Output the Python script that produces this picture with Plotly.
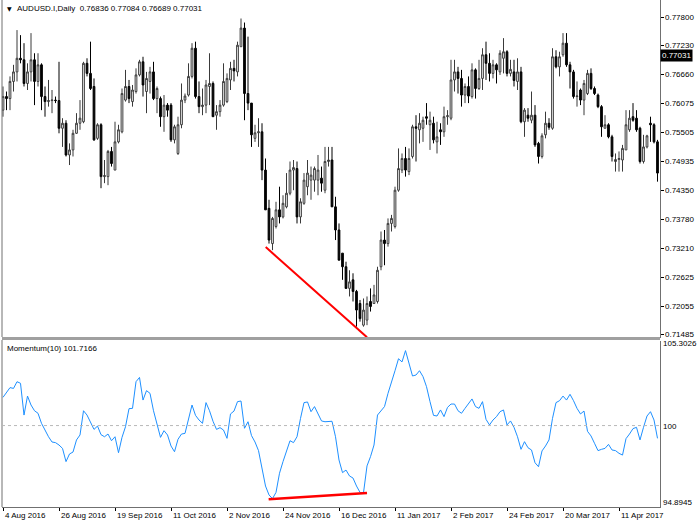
import plotly.graph_objects as go

# ---------------- data ----------------
date_tick_labels = ["4 Aug 2016", "26 Aug 2016", "19 Sep 2016", "11 Oct 2016", "2 Nov 2016",
                    "24 Nov 2016", "16 Dec 2016", "11 Jan 2017", "2 Feb 2017", "24 Feb 2017",
                    "20 Mar 2017", "11 Apr 2017"]
date_tick_bars = [0, 16, 32, 48, 64, 80, 96, 112, 128, 144, 160, 176]

price_ticks = [0.77800, 0.77230, 0.76660, 0.76075, 0.75505, 0.74935, 0.74350,
               0.73780, 0.73210, 0.72625, 0.72055, 0.71485]
momentum_labels = ["105.3026", "100", "94.8945"]

open_ = [.7595, .7622, .7618, .7652, .7671, .7698, .7695, .7648, .7671, .7695,
         .7652, .7685, .7622, .7612, .7614, .7615, .7614, .7559, .7569, .7506,
         .7516, .7549, .7569, .7572, .7688, .7668, .7642, .7539, .7566, .7463,
         .7463, .7513, .7476, .7532, .7552, .7615, .7642, .7612, .7632, .7665,
         .7691, .7632, .7652, .7671, .7618, .7618, .7582, .7605, .7605, .7536,
         .7509, .7566, .7615, .7625, .7662, .7718, .7622, .7602, .7605, .7642,
         .7648, .7585, .7592, .7605, .7612, .7655, .7678, .7671, .7721, .7758,
         .7628, .7609, .7539, .7550, .7552, .7476, .7400, .7330, .7364, .7397,
         .7383, .7403, .7430, .7476, .7479, .7383, .7410, .7443, .7456, .7456,
         .7456, .7460, .7436, .7493, .7496, .7403, .7357, .7311, .7284, .7241,
         .7258, .7235, .7211, .7168, .7178, .7215, .7211, .7215, .7284, .7337,
         .7330, .7370, .7364, .7436, .7476, .7499, .7473, .7503, .7562, .7556,
         .7559, .7582, .7566, .7569, .7532, .7556, .7552, .7582, .7579, .7655,
         .7671, .7658, .7625, .7642, .7622, .7675, .7638, .7658, .7705, .7688,
         .7668, .7685, .7671, .7698, .7711, .7668, .7671, .7652, .7671, .7572,
         .7585, .7575, .7585, .7529, .7503, .7546, .7569, .7559, .7701, .7681,
         .7705, .7728, .7685, .7671, .7622, .7635, .7615, .7628, .7668, .7638,
         .7625, .7602, .7559, .7566, .7542, .7493, .7497, .7496, .7516, .7556,
         .7582, .7579, .7559, .7493, .7522, .7569, .7566, .7532]

high = [.7642, .7632, .7662, .7685, .7754, .7744, .7728, .7688, .7748, .7708,
        .7708, .7688, .7642, .7655, .7635, .7622, .7691, .7579, .7575, .7529,
        .7556, .7589, .7615, .7691, .7698, .7731, .7658, .7569, .7569, .7496,
        .7516, .7522, .7572, .7566, .7638, .7675, .7655, .7645, .7678, .7695,
        .7701, .7671, .7681, .7691, .7642, .7622, .7625, .7609, .7609, .7566,
        .7582, .7648, .7628, .7688, .7728, .7731, .7652, .7638, .7655, .7708,
        .7652, .7605, .7615, .7688, .7668, .7691, .7695, .7731, .7777, .7769,
        .7741, .7609, .7566, .7579, .7569, .7499, .7417, .7383, .7413, .7443,
        .7426, .7470, .7493, .7496, .7493, .7420, .7470, .7496, .7483, .7483,
        .7506, .7483, .7522, .7522, .7522, .7423, .7370, .7311, .7294, .7277,
        .7271, .7238, .7218, .7221, .7225, .7241, .7248, .7284, .7354, .7357,
        .7380, .7387, .7443, .7519, .7509, .7522, .7519, .7566, .7585, .7589,
        .7582, .7609, .7592, .7582, .7572, .7569, .7602, .7595, .7695, .7695,
        .7681, .7675, .7648, .7662, .7688, .7678, .7695, .7718, .7731, .7708,
        .7695, .7688, .7714, .7738, .7714, .7695, .7695, .7698, .7681, .7599,
        .7599, .7632, .7605, .7532, .7549, .7592, .7579, .7718, .7714, .7711,
        .7748, .7748, .7691, .7675, .7652, .7638, .7655, .7675, .7678, .7642,
        .7628, .7605, .7585, .7569, .7546, .7509, .7513, .7526, .7595, .7595,
        .7609, .7595, .7562, .7546, .7546, .7582, .7569, .7536]

low = [.7582, .7595, .7595, .7632, .7652, .7688, .7642, .7635, .7652, .7605,
       .7642, .7595, .7582, .7602, .7589, .7609, .7549, .7522, .7503, .7486,
       .7503, .7548, .7556, .7569, .7662, .7635, .7534, .7536, .7440, .7450,
       .7446, .7483, .7476, .7529, .7549, .7612, .7609, .7602, .7628, .7662,
       .7622, .7589, .7628, .7615, .7589, .7562, .7552, .7582, .7532, .7529,
       .7506, .7559, .7609, .7622, .7658, .7618, .7589, .7585, .7589, .7605,
       .7582, .7556, .7582, .7602, .7609, .7635, .7652, .7662, .7721, .7575,
       .7595, .7522, .7532, .7522, .7456, .7397, .7330, .7317, .7360, .7370,
       .7380, .7400, .7426, .7436, .7370, .7370, .7407, .7426, .7417, .7433,
       .7426, .7433, .7430, .7483, .7403, .7337, .7297, .7258, .7241, .7225,
       .7215, .7165, .7175, .7165, .7168, .7195, .7211, .7211, .7277, .7287,
       .7324, .7354, .7360, .7433, .7470, .7463, .7466, .7499, .7493, .7529,
       .7532, .7566, .7516, .7529, .7509, .7526, .7542, .7566, .7575, .7632,
       .7628, .7602, .7609, .7609, .7618, .7618, .7635, .7635, .7655, .7652,
       .7658, .7648, .7665, .7668, .7662, .7662, .7642, .7635, .7569, .7542,
       .7572, .7569, .7522, .7489, .7499, .7539, .7556, .7556, .7678, .7662,
       .7701, .7681, .7638, .7618, .7602, .7605, .7585, .7625, .7635, .7625,
       .7599, .7542, .7559, .7539, .7493, .7473, .7473, .7473, .7516, .7552,
       .7572, .7552, .7489, .7489, .7519, .7532, .7529, .7453]

close = [.7622, .7618, .7652, .7671, .7698, .7695, .7648, .7671, .7695, .7652,
         .7685, .7622, .7612, .7614, .7615, .7614, .7559, .7569, .7506, .7516,
         .7549, .7569, .7579, .7688, .7668, .7638, .7536, .7566, .7463, .7465,
         .7513, .7489, .7532, .7556, .7628, .7642, .7618, .7635, .7665, .7691,
         .7645, .7658, .7671, .7618, .7638, .7582, .7605, .7595, .7536, .7562,
         .7566, .7615, .7623, .7662, .7718, .7622, .7602, .7605, .7645, .7648,
         .7582, .7592, .7605, .7652, .7658, .7678, .7673, .7724, .7758, .7628,
         .7609, .7546, .7550, .7552, .7476, .7397, .7337, .7380, .7397, .7383,
         .7410, .7430, .7476, .7481, .7383, .7413, .7456, .7470, .7466, .7479,
         .7476, .7450, .7493, .7496, .7403, .7357, .7297, .7284, .7241, .7254,
         .7235, .7198, .7181, .7198, .7211, .7205, .7228, .7277, .7337, .7330,
         .7370, .7380, .7436, .7479, .7499, .7476, .7499, .7562, .7559, .7569,
         .7575, .7579, .7575, .7536, .7542, .7552, .7582, .7584, .7655, .7671,
         .7658, .7625, .7642, .7623, .7675, .7638, .7658, .7705, .7688, .7668,
         .7685, .7675, .7708, .7711, .7668, .7676, .7654, .7671, .7572, .7595,
         .7579, .7585, .7526, .7503, .7544, .7569, .7561, .7701, .7681, .7701,
         .7728, .7685, .7671, .7622, .7623, .7615, .7648, .7668, .7638, .7628,
         .7602, .7562, .7566, .7542, .7503, .7497, .7499, .7519, .7566, .7579,
         .7575, .7556, .7493, .7522, .7544, .7566, .7532, .7470]

momentum = [101.77, 102.08, 102.38, 102.33, 102.75, 102.65, 100.66, 101.85, 101.29, 100.93,
            100.77, 100.14, 99.68, 99.30, 98.97, 98.93, 98.78, 98.57, 97.74, 98.22,
            98.34, 99.10, 99.41, 100.93, 100.66, 100.20, 99.76, 99.97, 99.43, 99.30,
            99.47, 99.05, 99.30, 98.30, 99.26, 99.93, 101.06, 101.08, 102.75, 103.02,
            101.60, 102.19, 102.02, 100.93, 100.04, 99.26, 99.68, 99.41, 98.72, 98.36,
            99.14, 99.47, 99.51, 100.39, 101.29, 100.64, 100.35, 100.14, 101.44, 100.93,
            100.27, 99.76, 99.87, 99.72, 99.20, 100.73, 100.91, 101.50, 101.54, 99.83,
            100.24, 99.37, 98.97, 98.43, 97.42, 96.21, 95.65, 95.42, 95.81, 97.01,
            97.74, 98.47, 99.05, 98.93, 99.30, 100.45, 101.44, 101.48, 100.87, 101.19,
            100.77, 100.29, 100.24, 100.27, 100.27, 99.30, 97.84, 97.05, 97.21, 96.84,
            96.71, 96.21, 95.81, 95.79, 97.47, 98.05, 98.78, 100.66, 100.93, 101.19,
            102.02, 102.69, 103.44, 104.19, 103.99, 104.70, 103.90, 103.11, 103.17, 103.44,
            103.07, 102.44, 101.50, 100.64, 100.60, 100.98, 100.56, 101.14, 101.35, 101.35,
            100.93, 100.77, 101.08, 101.35, 101.67, 101.19, 101.08, 101.50, 100.39, 100.04,
            100.35, 100.56, 100.87, 100.98, 100.04, 100.29, 99.89, 99.30, 98.51, 98.99,
            98.61, 98.47, 97.67, 97.42, 98.41, 98.72, 99.10, 100.45, 101.44, 101.56,
            101.85, 101.60, 101.96, 101.56, 101.08, 100.73, 100.91, 99.64, 99.35, 98.89,
            98.43, 98.51, 98.57, 98.82, 98.47, 98.43, 98.26, 98.15, 99.18, 99.47,
            99.81, 99.89, 99.10, 99.89, 100.60, 100.87, 100.35, 99.20]

# divergence trend lines (bar index, value)
price_trend_x = [75.06, 104.0]
price_trend_y = [0.7323, 0.7144]
mom_trend_x = [75.9, 104.0]
mom_trend_y = [95.375, 95.77]

header_text = "AUDUSD.I,Daily  0.76836 0.77084 0.76689 0.77031"
last_price = 0.77031
momentum_title = "Momentum(10) 101.7166"

bar_index = list(range(len(close)))

# ---------------- figure ----------------
W, H = 700, 525
FONT = "Liberation Sans, Arial, sans-serif"

def px_x(p):
    return p / W

def px_y(p):
    return (H - p) / H

x_left, x_right = 2, 660
x_range = [(x_left - 3) / 3.5, (x_right - 3) / 3.5]

fig = go.Figure()

fig.add_trace(go.Candlestick(
    x=bar_index, open=open_, high=high, low=low, close=close,
    xaxis="x", yaxis="y",
    increasing=dict(line=dict(color="#3a3a3a", width=1), fillcolor="white"),
    decreasing=dict(line=dict(color="black", width=1), fillcolor="black"),
    whiskerwidth=0, hoverinfo="skip", showlegend=False,
))

fig.add_trace(go.Scatter(
    x=price_trend_x, y=price_trend_y, mode="lines",
    line=dict(color="#ff0000", width=2), xaxis="x", yaxis="y",
    hoverinfo="skip", showlegend=False,
))

fig.add_trace(go.Scatter(
    x=bar_index, y=momentum, mode="lines",
    line=dict(color="#1E90FF", width=1), xaxis="x2", yaxis="y2",
    hoverinfo="skip", showlegend=False,
))

fig.add_trace(go.Scatter(
    x=mom_trend_x, y=mom_trend_y, mode="lines",
    line=dict(color="#ff0000", width=2.5), xaxis="x2", yaxis="y2",
    hoverinfo="skip", showlegend=False,
))

price_range = [0.778 - (337 - 17) * 0.0001986, 0.778 + (17 - 0) * 0.0001986]

fig.update_layout(
    width=W, height=H,
    margin=dict(l=0, r=0, t=0, b=0),
    paper_bgcolor="white", plot_bgcolor="white",
    showlegend=False,
    font=dict(family=FONT, size=8, color="black"),
    xaxis=dict(domain=[px_x(x_left), px_x(x_right)], range=x_range, anchor="y",
               showticklabels=False, showgrid=False, zeroline=False,
               showline=True, linecolor="#707070", linewidth=1,
               rangeslider=dict(visible=False), fixedrange=True),
    yaxis=dict(domain=[px_y(337), px_y(0)], range=price_range, anchor="x", side="right",
               tickvals=price_ticks, showticklabels=False,
               ticks="outside", ticklen=3, tickcolor="black",
               showgrid=False, zeroline=False, showline=True, linecolor="#707070"),
    xaxis2=dict(domain=[px_x(x_left), px_x(x_right)], range=x_range, anchor="y2",
                tickvals=date_tick_bars, showticklabels=False,
                ticks="outside", ticklen=3, tickcolor="black",
                showgrid=False, zeroline=False, showline=True, linecolor="#707070"),
    yaxis2=dict(domain=[px_y(507), px_y(341)], range=[94.8945, 105.3026], anchor="x2",
                side="right", showticklabels=False, showgrid=False, zeroline=False,
                showline=True, linecolor="#707070"),
)

shapes = []
# left borders
shapes.append(dict(type="line", xref="paper", yref="paper", x0=px_x(x_left), x1=px_x(x_left),
                   y0=px_y(337), y1=px_y(0), line=dict(color="#707070", width=1)))
shapes.append(dict(type="line", xref="paper", yref="paper", x0=px_x(x_left), x1=px_x(x_left),
                   y0=px_y(507), y1=px_y(340), line=dict(color="#707070", width=1)))
# separator band
shapes.append(dict(type="rect", xref="paper", yref="paper", x0=px_x(x_left), x1=px_x(x_right),
                   y0=px_y(340), y1=px_y(337), fillcolor="#a0a0a0", line=dict(width=0)))
# dashed level 100
shapes.append(dict(type="line", xref="paper", yref="y2", x0=px_x(x_left), x1=px_x(x_right),
                   y0=100, y1=100, line=dict(color="#b8b8b8", width=1, dash="3px,3px")))
fig.update_layout(shapes=shapes)

ann = []
ann.append(dict(x=px_x(5), y=px_y(9), xref="paper", yref="paper", text="▼",
                showarrow=False, xanchor="left", yanchor="middle",
                font=dict(family="DejaVu Sans", size=6, color="black")))
ann.append(dict(x=px_x(15), y=px_y(9), xref="paper", yref="paper", text=header_text,
                showarrow=False, xanchor="left", yanchor="middle",
                font=dict(family=FONT, size=8, color="black")))
ann.append(dict(x=px_x(5), y=px_y(348), xref="paper", yref="paper", text=momentum_title,
                showarrow=False, xanchor="left", yanchor="middle",
                font=dict(family=FONT, size=8, color="black")))
# price axis labels
for v in price_ticks:
    ann.append(dict(x=px_x(663), y=v, xref="paper", yref="y", text=f"{v:.5f}",
                    showarrow=False, xanchor="left", yanchor="middle",
                    font=dict(family=FONT, size=8, color="black")))
ann.append(dict(x=px_x(660), y=last_price, xref="paper", yref="y", text=f"{last_price:.5f}",
                showarrow=False, xanchor="left", yanchor="middle", bgcolor="black",
                borderpad=1, font=dict(family=FONT, size=8, color="white")))
for lab, ypx in zip(momentum_labels, [343, 426, 502]):
    ann.append(dict(x=px_x(661), y=px_y(ypx), xref="paper", yref="paper", text=lab,
                    showarrow=False, xanchor="left", yanchor="middle",
                    font=dict(family=FONT, size=8, color="black")))
for lab, b in zip(date_tick_labels, date_tick_bars):
    ann.append(dict(x=b, y=px_y(515), xref="x2", yref="paper", text=lab,
                    showarrow=False, xanchor="left", yanchor="middle",
                    font=dict(family=FONT, size=8, color="black")))
fig.update_layout(annotations=ann)

fig.write_html("out.html", config={"displayModeBar": False},
               post_script="document.body.style.margin='0px';document.body.style.overflow='hidden';")
